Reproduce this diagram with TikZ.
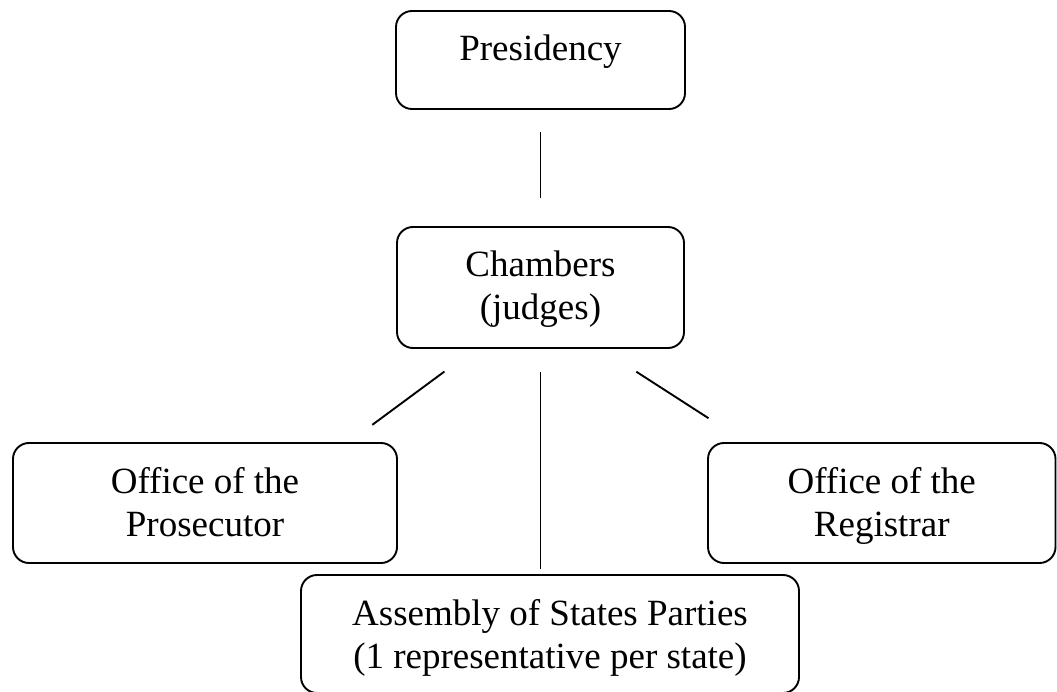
\documentclass[tikz,border=0pt]{standalone}
\usepackage{fontspec}
\setmainfont{Liberation Serif}
\begin{document}
\begin{tikzpicture}[x=1pt,y=-1pt,
  box/.style={draw, line width=1.9pt, rounded corners=16pt, inner sep=0pt},
  lbl/.style={font=\fontsize{37}{43}\selectfont, align=center, anchor=base, inner sep=0pt},
  link/.style={line width=1.9pt}]
\useasboundingbox (0,0) rectangle (1057,692);
\node[box, minimum width=289pt, minimum height=98pt] (pres) at (540.5,60) {};
\node[lbl] (prest) at ([yshift=-50pt]pres.north) {Presidency};
\node[box, minimum width=287pt, minimum height=121pt] (cham) at (540.5,287.5) {};
\node[lbl] (chamt) at ([yshift=-93pt]cham.north) {Chambers\\(judges)};
\node[box, minimum width=384pt, minimum height=120pt] (pros) at (205,503) {};
\node[lbl] (prost) at ([yshift=-94pt]pros.north) {Office of the\\Prosecutor};
\node[box, minimum width=347.5pt, minimum height=120pt] (reg) at (881.75,503) {};
\node[lbl] (regt) at ([yshift=-94pt]reg.north) {Office of the\\Registrar};
\node[box, minimum width=498pt, minimum height=118pt] (asm) at (550,634) {};
\node[lbl] (asmt) at ([yshift=-94pt]asm.north) {Assembly of States Parties\\(1 representative per state)};
\draw[link, shorten <=22pt, shorten >=28pt] (pres.south) -- (cham.north);
\draw[link, shorten <=38pt, shorten >=29pt] ([xshift=-65.5pt]cham.south) -- ([xshift=144pt]pros.north);
\draw[link, shorten <=42pt, shorten >=44pt] ([xshift=60.5pt]cham.south) -- ([xshift=-136.25pt]reg.north);
\draw[link, shorten <=23pt, shorten >=5pt] (cham.south) -- (cham.south |- asm.north);
\end{tikzpicture}
\end{document}
